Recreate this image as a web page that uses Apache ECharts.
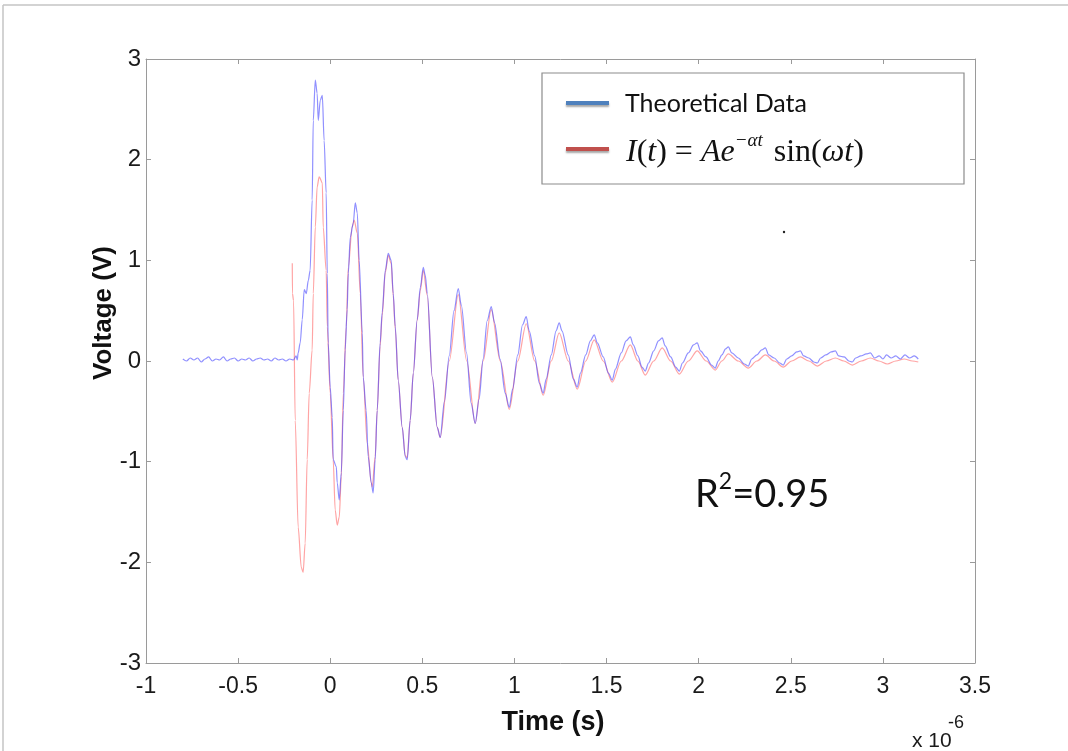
<!DOCTYPE html>
<html><head><meta charset="utf-8">
<script src="https://cdn.jsdelivr.net/npm/echarts@6/dist/echarts.min.js"></script>
<style>html,body{margin:0;padding:0;background:#fff}#c{width:1068px;height:751px}</style>
</head><body><div id="c"></div>
<script>
// Tick settings
const xTicks = {min: -1, max: 3.5, interval: 0.5};
const yTicks = {min: -3, max: 3, interval: 1};

// Theoretical data (blue) : [time (µs), voltage (V)]
const blueData = [
 [-0.80,0.02],[-0.78,0.00],[-0.76,0.03],[-0.74,0.01],[-0.72,0.03],[-0.70,-0.01],[-0.68,0.02],[-0.66,0.04],
 [-0.64,0.00],[-0.62,0.02],[-0.60,0.01],[-0.58,0.04],[-0.56,0.00],[-0.54,0.02],[-0.52,0.03],[-0.50,0.00],
 [-0.48,0.02],[-0.46,0.01],[-0.44,0.03],[-0.42,0.00],[-0.40,0.02],[-0.38,0.03],[-0.36,0.01],[-0.34,0.02],
 [-0.32,0.00],[-0.30,0.03],[-0.28,0.01],[-0.26,0.02],[-0.24,0.00],[-0.22,0.02],[-0.20,0.01],[-0.185,0.05],
 [-0.179,0.01],[-0.174,0.08],[-0.163,0.18],[-0.152,0.41],[-0.141,0.71],[-0.130,0.67],[-0.119,0.80],
 [-0.109,0.90],[-0.098,1.60],[-0.092,2.39],[-0.081,2.79],[-0.071,2.66],[-0.065,2.39],[-0.054,2.59],
 [-0.043,2.64],[-0.033,2.19],[-0.022,1.67],[-0.016,0.87],[-0.011,0.18],[0.000,-0.26],[0.011,-0.56],
 [0.016,-0.98],[0.033,-1.05],[0.038,-1.21],[0.049,-1.38],[0.060,-1.11],[0.071,-0.49],[0.081,0.11],
 [0.092,0.51],[0.098,0.87],[0.109,1.23],[0.125,1.37],[0.136,1.57],[0.147,1.47],[0.157,1.00],
 [0.174,0.28],[0.179,-0.16],[0.195,-0.49],[0.206,-0.95],[0.223,-1.21],[0.233,-1.31],[0.244,-0.98],
 [0.255,-0.49],[0.271,0.18],[0.282,0.48],[0.299,0.90],[0.315,1.07],[0.331,1.00],[0.342,0.67],
 [0.353,0.34],[0.369,-0.19],[0.391,-0.66],[0.407,-0.95],[0.418,-0.98],[0.434,-0.59],[0.451,-0.12],
 [0.472,0.41],[0.489,0.73],[0.505,0.93],[0.516,0.85],[0.527,0.67],[0.554,-0.16],[0.581,-0.66],
 [0.597,-0.76],[0.620,-0.40],[0.646,0.05],[0.672,0.50],[0.695,0.72],[0.712,0.55],[0.740,0.08],
 [0.765,-0.42],[0.787,-0.62],[0.808,-0.38],[0.830,0.02],[0.852,0.40],[0.874,0.54],[0.892,0.38],
 [0.922,0.02],[0.950,-0.32],[0.972,-0.46],[0.990,-0.28],[1.018,0.06],[1.044,0.36],[1.064,0.44],
 [1.080,0.30],[1.110,0.05],[1.135,-0.22],[1.156,-0.32],[1.172,-0.18],[1.200,0.06],[1.226,0.30],
 [1.243,0.38],[1.258,0.30],[1.292,0.06],[1.320,-0.18],[1.341,-0.26],[1.358,-0.12],[1.387,0.06],
 [1.412,0.20],[1.433,0.26],[1.450,0.18],[1.482,0.04],[1.510,-0.12],[1.531,-0.19],[1.548,-0.08],
 [1.580,0.08],[1.606,0.20],[1.629,0.24],[1.645,0.16],[1.670,0.05],[1.692,-0.06],[1.710,-0.10],
 [1.728,-0.02],[1.756,0.10],[1.782,0.20],[1.802,0.23],[1.818,0.15],[1.848,0.04],[1.875,-0.06],
 [1.895,-0.10],[1.912,-0.02],[1.944,0.08],[1.972,0.16],[1.992,0.18],[2.010,0.10],[2.040,0.04],
 [2.070,-0.04],[2.090,-0.07],[2.106,0.00],[2.126,0.06],[2.146,0.12],[2.161,0.14],[2.180,0.08],
 [2.215,0.03],[2.248,-0.03],[2.269,-0.05],[2.288,0.02],[2.316,0.06],[2.342,0.11],[2.362,0.13],
 [2.380,0.06],[2.410,0.03],[2.440,-0.02],[2.459,-0.04],[2.478,0.02],[2.505,0.05],[2.532,0.09],
 [2.552,0.10],[2.570,0.05],[2.598,0.03],[2.625,-0.01],[2.644,-0.02],[2.662,0.03],[2.690,0.06],
 [2.720,0.09],[2.742,0.10],[2.760,0.05],[2.790,0.04],[2.815,0.00],[2.834,-0.01],[2.852,0.03],
 [2.880,0.05],[2.910,0.07],[2.932,0.08],[2.955,0.03],[2.980,0.05],[3.000,0.02],[3.020,0.06],
 [3.045,0.03],[3.070,0.05],[3.095,0.02],[3.120,0.06],[3.145,0.03],[3.170,0.05],[3.192,0.02]
];

// Fitted curve I(t) = A e^(-αt) sin(ωt) (red) : [time (µs), voltage (V)]
const redData = [
 [-0.206,0.97],[-0.205,0.67],[-0.199,0.60],[-0.190,-0.59],[-0.174,-1.65],[-0.157,-2.05],[-0.147,-2.10],
 [-0.136,-1.81],[-0.125,-0.98],[-0.114,-0.32],[-0.098,0.11],[-0.092,0.67],[-0.081,1.33],[-0.071,1.73],
 [-0.060,1.83],[-0.043,1.77],[-0.038,1.33],[-0.022,0.90],[-0.016,0.34],[0.000,-0.32],[0.016,-0.98],
 [0.027,-1.48],[0.038,-1.63],[0.049,-1.55],[0.060,-1.15],[0.071,-0.32],[0.087,0.34],[0.098,0.93],
 [0.119,1.33],[0.130,1.40],[0.147,1.27],[0.163,0.67],[0.179,-0.16],[0.201,-0.82],[0.223,-1.21],
 [0.228,-1.25],[0.244,-0.95],[0.255,-0.49],[0.271,0.15],[0.282,0.45],[0.299,0.88],[0.315,1.05],
 [0.331,0.97],[0.342,0.65],[0.353,0.32],[0.369,-0.19],[0.391,-0.66],[0.407,-0.94],[0.418,-0.96],
 [0.434,-0.59],[0.451,-0.12],[0.472,0.40],[0.489,0.70],[0.505,0.90],[0.527,0.65],[0.554,-0.16],
 [0.581,-0.66],[0.597,-0.76],[0.646,0.00],[0.695,0.66],[0.741,0.00],[0.787,-0.62],[0.830,0.00],
 [0.874,0.51],[0.923,0.00],[0.972,-0.48],[1.018,0.00],[1.064,0.37],[1.110,0.00],[1.156,-0.34],
 [1.200,0.00],[1.243,0.28],[1.292,0.00],[1.341,-0.28],[1.387,0.00],[1.433,0.21],[1.482,0.00],
 [1.531,-0.21],[1.580,0.00],[1.629,0.16],[1.670,0.00],[1.710,-0.14],[1.756,0.00],[1.802,0.13],
 [1.848,0.00],[1.895,-0.13],[1.944,0.00],[1.992,0.10],[2.041,0.00],[2.090,-0.09],[2.126,0.00],
 [2.161,0.07],[2.215,0.00],[2.269,-0.07],[2.316,0.00],[2.362,0.06],[2.410,0.00],[2.459,-0.06],
 [2.505,0.00],[2.552,0.04],[2.598,0.00],[2.644,-0.05],[2.693,0.00],[2.742,0.03],[2.788,0.00],
 [2.834,-0.04],[2.883,0.00],[2.932,0.03],[2.978,0.00],[3.024,-0.03],[3.070,0.00],[3.116,0.02],
 [3.160,0.00],[3.192,-0.01]
];

const legendNames = ['Theoretical Data', 'I(t) = Ae^(−αt) sin(ωt)'];
const rSquared = '0.95';

const sansFont = '"Liberation Sans", Arial, sans-serif';
const chart = echarts.init(document.getElementById('c'), null, {renderer: 'canvas'});
const axisCol = '#9a9a9a';
const tickStyle = {inside: true, length: 5, lineStyle: {color: axisCol}};
const lineStyle = {show: true, onZero: false, lineStyle: {color: axisCol, width: 1}};
const option = {
  animation: false,
  backgroundColor: '#fff',
  grid: {left: 146, right: 93, top: 59, bottom: 88},
  xAxis: [
    {type: 'value', min: xTicks.min, max: xTicks.max, interval: xTicks.interval,
     axisLine: lineStyle, axisTick: tickStyle,
     axisLabel: {margin: 12, color: '#1a1a1a', fontSize: 23, fontFamily: sansFont},
     splitLine: {show: false}},
    {type: 'value', position: 'top', min: xTicks.min, max: xTicks.max, interval: xTicks.interval,
     axisLine: lineStyle, axisTick: tickStyle,
     axisLabel: {show: false}, splitLine: {show: false}}
  ],
  yAxis: [
    {type: 'value', min: yTicks.min, max: yTicks.max, interval: yTicks.interval,
     axisLine: lineStyle, axisTick: Object.assign({show: true}, tickStyle),
     axisLabel: {margin: 5, color: '#1a1a1a', fontSize: 24, fontFamily: sansFont},
     splitLine: {show: false}},
    {type: 'value', position: 'right', min: yTicks.min, max: yTicks.max, interval: yTicks.interval,
     axisLine: lineStyle, axisTick: Object.assign({show: true}, tickStyle),
     axisLabel: {show: false}, splitLine: {show: false}}
  ],
  series: [
    {name: legendNames[1], type: 'line', data: redData, showSymbol: false, smooth: 0.3,
     smoothMonotone: 'x', lineStyle: {color: 'rgba(255,90,90,0.55)', width: 1.2}, z: 2},
    {name: legendNames[0], type: 'line', data: blueData, showSymbol: false, smooth: 0.3,
     smoothMonotone: 'x', lineStyle: {color: 'rgba(70,70,255,0.6)', width: 1.2}, z: 3}
  ],
  graphic: [
    {type: 'line', shape: {x1: 3, y1: 5, x2: 1068, y2: 5}, style: {stroke: '#c4c4c4', lineWidth: 1.5}},
    {type: 'line', shape: {x1: 3, y1: 5, x2: 3, y2: 751}, style: {stroke: '#c4c4c4', lineWidth: 1.5}},
    {type: 'text', x: 104, y: 313, rotation: Math.PI / 2,
     style: {text: 'Voltage (V)', align: 'center', verticalAlign: 'middle',
             font: 'bold 26px ' + sansFont, fill: '#111'}},
    {type: 'text', x: 553, y: 723,
     style: {text: 'Time (s)', align: 'center', verticalAlign: 'middle',
             font: 'bold 27px ' + sansFont, fill: '#111'}},
    {type: 'text', x: 912, y: 741,
     style: {text: 'x 10', align: 'left', verticalAlign: 'middle', font: '21px ' + sansFont, fill: '#1a1a1a'}},
    {type: 'text', x: 948, y: 723,
     style: {text: '-6', align: 'left', verticalAlign: 'middle', font: '18px ' + sansFont, fill: '#1a1a1a'}},
    {type: 'rect', shape: {x: 542, y: 73, width: 422, height: 111},
     style: {fill: '#fff', stroke: '#8c8c8c', lineWidth: 1.2}, z: 10},
    {type: 'line', shape: {x1: 566, y1: 103, x2: 609, y2: 103},
     style: {stroke: '#4f81bd', lineWidth: 4, shadowColor: 'rgba(0,0,0,0.35)', shadowBlur: 2, shadowOffsetY: 2}, z: 11},
    {type: 'line', shape: {x1: 566, y1: 149, x2: 609, y2: 149},
     style: {stroke: '#c0504d', lineWidth: 4, shadowColor: 'rgba(0,0,0,0.35)', shadowBlur: 2, shadowOffsetY: 2}, z: 11},
    {type: 'text', x: 625, y: 104, z: 11,
     style: {text: legendNames[0], align: 'left', verticalAlign: 'middle',
             font: '25px Lato, "Open Sans", sans-serif', fill: '#111'}},
    {type: 'text', x: 626, y: 150, z: 11,
     style: {
       text: '{i|I}{n|(}{i|t}{n|) = }{i|Ae}{s|−αt}{n| sin(}{i|ωt}{n|)}',
       align: 'left', verticalAlign: 'middle',
       rich: {
         i: {fontFamily: '"Liberation Serif", "DejaVu Serif", serif', fontStyle: 'italic', fontSize: 32, fill: '#111', lineHeight: 38, verticalAlign: 'bottom'},
         n: {fontFamily: '"Liberation Serif", "DejaVu Serif", serif', fontSize: 32, fill: '#111', lineHeight: 38, verticalAlign: 'bottom'},
         s: {fontFamily: '"Liberation Serif", "DejaVu Serif", serif', fontStyle: 'italic', fontSize: 19, fill: '#111', lineHeight: 38, verticalAlign: 'top', padding: [0, 3, 0, 0]}
       }
     }},
    {type: 'text', x: 695, y: 492,
     style: {
       text: '{n|R}{s|2}{n|=' + rSquared + '}',
       align: 'left', verticalAlign: 'middle',
       rich: {
         n: {fontFamily: 'Lato, "Open Sans", sans-serif', fontSize: 38, fill: '#111', lineHeight: 44, verticalAlign: 'bottom'},
         s: {fontFamily: 'Lato, "Open Sans", sans-serif', fontSize: 23, fill: '#111', lineHeight: 44, verticalAlign: 'top'}
       }
     }},
    {type: 'circle', shape: {cx: 784, cy: 232, r: 1.2}, style: {fill: '#222'}}
  ]
};
chart.setOption(option);
</script></body></html>
